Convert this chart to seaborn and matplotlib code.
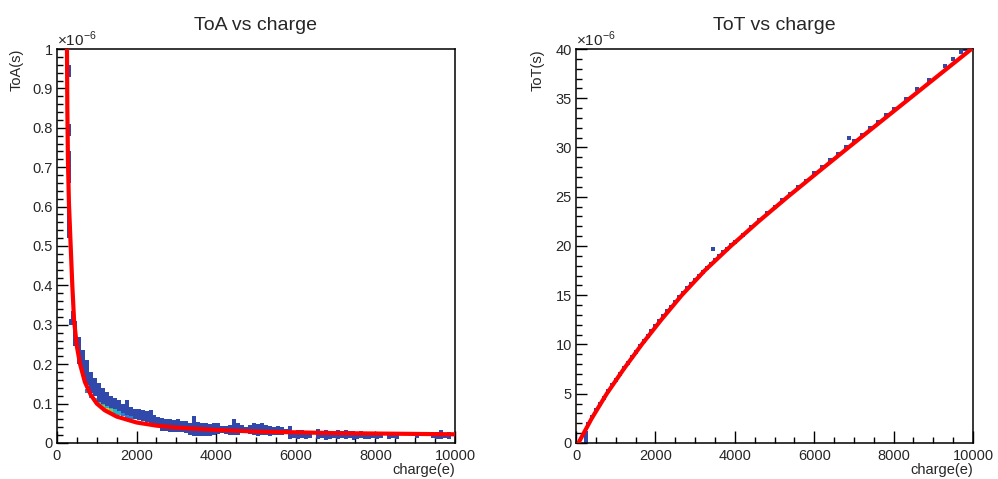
import numpy as np
import pandas as pd
import matplotlib
matplotlib.use("Agg")
import matplotlib.pyplot as plt
from matplotlib.ticker import MultipleLocator, FuncFormatter
import seaborn as sns

# ================================
# DATA (ToA and ToT in units of 1e-6 s)
# ================================
# ToA vs charge : filled band of the 2D histogram, 100 e wide bins
band_q = [300, 400, 500, 600, 700, 800, 900, 1000, 1100, 1200, 1300, 1400, 1500, 1600, 1700,
          1800, 1900, 2000, 2100, 2200, 2300, 2400, 2500, 2600, 2700, 2800, 2900, 3000, 3100,
          3200, 3300, 3400, 3500, 3600, 3700, 3800, 3900, 4000, 4100, 4200, 4300, 4400, 4500,
          4600, 4700, 4800, 4900, 5000, 5100, 5200, 5300, 5400, 5500, 5600, 5700, 5800, 5900,
          6000, 6100, 6200, 6300, 6400, 6500, 6600, 6700, 6800, 6900, 7000, 7100, 7200, 7300,
          7400, 7500, 7600, 7700, 7800, 7900, 8000, 8100, 8200, 8300, 8400, 8500, 8600, 8700,
          8800, 8900, 9000, 9100, 9200, 9300, 9400, 9500, 9600, 9700, 9800]
band_lo = [0.30, 0.245, 0.20, 0.17, 0.148, 0.128, 0.118, 0.105, 0.098, 0.09, 0.085, 0.079, 0.075,
           0.071, 0.068, 0.064, 0.061, 0.058, 0.055, 0.052, 0.05, 0.047, 0.045, 0.03, 0.03, 0.029,
           0.028, 0.028, 0.027, 0.026, 0.02, 0.018, 0.018, 0.017, 0.017, 0.018, 0.02, 0.022, 0.025,
           0.023, 0.02, 0.02, 0.02, 0.025, 0.027, 0.022, 0.02, 0.018, 0.02, 0.02, 0.018, 0.02, 0.02,
           0.02, 0.022, 0.01, 0.012, 0.01, 0.012, 0.01, 0.012, None, 0.01, 0.012, 0.008, 0.01,
           0.012, 0.01, 0.012, 0.01, 0.012, 0.008, 0.01, 0.012, 0.01, 0.01, 0.012, 0.01, 0.012,
           None, 0.01, 0.012, 0.01, None, None, None, None, 0.012, None, None, None, 0.012, 0.01,
           0.01, 0.012, 0.01]
band_hi = [0.315, 0.31, 0.27, 0.235, 0.21, 0.18, 0.165, 0.152, 0.14, 0.13, 0.118, 0.115, 0.108,
           0.10, 0.11, 0.092, 0.086, 0.087, 0.084, 0.08, 0.084, 0.07, 0.066, 0.064, 0.062, 0.06,
           0.058, 0.06, 0.057, 0.055, 0.05, 0.068, 0.052, 0.05, 0.05, 0.048, 0.05, 0.05, 0.042,
           0.042, 0.045, 0.06, 0.05, 0.045, 0.04, 0.045, 0.05, 0.048, 0.05, 0.045, 0.042, 0.04,
           0.042, 0.04, 0.035, 0.042, 0.03, 0.032, 0.033, 0.03, 0.028, None, 0.035, 0.03, 0.033,
           0.03, 0.028, 0.032, 0.03, 0.033, 0.03, 0.03, 0.028, 0.03, 0.027, 0.029, 0.026, 0.028,
           0.026, None, 0.027, 0.025, 0.028, None, None, None, None, 0.026, None, None, None,
           0.026, 0.028, 0.032, 0.026, 0.028]

# steep part near threshold, 50 e wide bins
steep_q = [300, 300, 300, 250, 300, 350, 350]
steep_lo = [0.93, 0.78, 0.66, 0.52, 0.50, 0.37, 0.31]
steep_hi = [0.96, 0.81, 0.74, 0.60, 0.56, 0.415, 0.335]

# higher occupancy cells along the lower edge
hot_q = [700, 800, 900, 1000, 1100, 1200, 1300, 1400, 1500, 1600, 1700, 1800, 1100, 1200, 1300, 1000, 1400]
hot_toa = [0.128, 0.115, 0.105, 0.097, 0.092, 0.086, 0.081, 0.077, 0.072, 0.068, 0.064, 0.061,
           0.088, 0.082, 0.077, 0.093, 0.073]
hot_level = [1, 1, 2, 2, 2, 2, 2, 2, 2, 1, 1, 1, 3, 4, 3, 3, 2]

# ToA fit curve
toa_fit_q = [250, 260, 275, 300, 340, 385, 430, 500, 580, 700, 850, 1000, 1200, 1500, 2000, 2500,
             3000, 4000, 5000, 6000, 7000, 8000, 9000, 10000]
toa_fit = [1.02, 0.85, 0.72, 0.61, 0.51, 0.40, 0.31, 0.245, 0.20, 0.155, 0.122, 0.100, 0.083, 0.067,
           0.052, 0.044, 0.039, 0.033, 0.029, 0.027, 0.025, 0.024, 0.023, 0.022]

# ToT vs charge : occupied cells
tot_q = [250, 250, 250, 300, 400, 500, 600, 700, 800, 900, 1000, 1100, 1200, 1300, 1400, 1500, 1600,
         1700, 1800, 1900, 2000, 2100, 2200, 2300, 2400, 2500, 2600, 2700, 2800, 2900, 3000, 3100,
         3200, 3300, 3400, 3450, 3500, 3600, 3700, 3800, 3900, 4000, 4200, 4400, 4600, 4800, 5000,
         5200, 5400, 5600, 5800, 6000, 6200, 6400, 6600, 6800, 6884, 7000, 7200, 7400, 7600, 7800,
         8000, 8300, 8600, 8900, 9300, 9500, 9700, 9800]
tot_val = [0.2, 0.6, 1.0, 1.9, 2.65, 3.3, 3.95, 4.6, 5.25, 5.85, 6.4, 7.0, 7.6, 8.15, 8.7, 9.25, 9.8,
           10.35, 10.85, 11.35, 11.85, 12.35, 12.85, 13.35, 13.85, 14.3, 14.8, 15.25, 15.7, 16.15,
           16.55, 17.0, 17.4, 17.8, 18.2, 19.7, 18.6, 18.95, 19.35, 19.7, 20.1, 20.45, 21.15, 21.9,
           22.6, 23.3, 23.95, 24.65, 25.3, 25.95, 26.6, 27.4, 28.05, 28.7, 29.35, 30.0, 31.0, 30.65,
           31.3, 31.95, 32.6, 33.25, 33.9, 34.9, 35.9, 36.9, 38.3, 39.0, 39.7, 40.0]

# ToT fit curve
tot_fit_q = [60, 395, 773, 1200, 1655, 2145, 2662, 3240, 3900, 4600, 5335, 6095, 6862, 7635, 8410,
             9185, 9960]
tot_fit = [0, 2.5, 5, 7.5, 10, 12.5, 15, 17.5, 20, 22.5, 25, 27.5, 30, 32.5, 35, 37.5, 40]

# ================================
# STYLE
# ================================
sns.set_style("white")
plt.rcParams["font.family"] = ["Liberation Sans", "DejaVu Sans"]
plt.rcParams["mathtext.fontset"] = "custom"
plt.rcParams["mathtext.rm"] = "Liberation Sans"

BLUE = "#3049ab"
RED = "#ff0000"
HOT = {1: "#2a7fd6", 2: "#22b3c4", 3: "#93c23c", 4: "#f5c22a"}

fig = plt.figure(figsize=(9.98, 4.79), dpi=100)
ax1 = fig.add_axes([0.0571, 0.0752, 0.3988, 0.8225])
ax2 = fig.add_axes([0.5772, 0.0752, 0.3978, 0.8225])

# ================================
# LEFT — ToA vs charge
# ================================
band = pd.DataFrame({"q": band_q, "lo": band_lo, "hi": band_hi}).dropna()
ax1.bar(band["q"], band["hi"] - band["lo"], bottom=band["lo"], width=100, align="edge",
        color=BLUE, linewidth=0, zorder=1)
steep = pd.DataFrame({"q": steep_q, "lo": steep_lo, "hi": steep_hi})
ax1.bar(steep["q"], steep["hi"] - steep["lo"], bottom=steep["lo"], width=50, align="edge",
        color=BLUE, linewidth=0, zorder=1)
hot = pd.DataFrame({"q": hot_q, "toa": hot_toa, "lvl": hot_level})
ax1.bar(hot["q"], 0.008, bottom=hot["toa"], width=100, align="edge",
        color=[HOT[v] for v in hot["lvl"]], linewidth=0, zorder=2)

fit1 = pd.DataFrame({"q": toa_fit_q, "toa": toa_fit})
sns.lineplot(data=fit1, x="q", y="toa", ax=ax1, color=RED, linewidth=3, zorder=3, sort=False)

ax1.set_xlim(0, 10000)
ax1.set_ylim(0, 1)
ax1.yaxis.set_major_locator(MultipleLocator(0.1))
ax1.yaxis.set_minor_locator(MultipleLocator(0.02))
ax1.set_title("ToA vs charge", fontsize=14, pad=14)
ax1.set_ylabel("ToA(s)", fontsize=10.5, loc="top")
ax1.yaxis.set_label_coords(-0.085, 1.0)
ax1.text(0.0, 1.0, r"$\times10^{-6}$", transform=ax1.transAxes, ha="left", va="bottom",
         fontsize=11)

# ================================
# RIGHT — ToT vs charge
# ================================
pts = pd.DataFrame({"q": tot_q, "tot": tot_val})
sns.scatterplot(data=pts, x="q", y="tot", ax=ax2, marker="s", s=6, color=BLUE,
                linewidth=0, zorder=1)
fit2 = pd.DataFrame({"q": tot_fit_q, "tot": tot_fit})
sns.lineplot(data=fit2, x="q", y="tot", ax=ax2, color=RED, linewidth=3, zorder=3, sort=False)

ax2.set_xlim(0, 10000)
ax2.set_ylim(0, 40)
ax2.yaxis.set_major_locator(MultipleLocator(5))
ax2.yaxis.set_minor_locator(MultipleLocator(1))
ax2.set_title("ToT vs charge", fontsize=14, pad=14)
ax2.set_ylabel("ToT(s)", fontsize=10.5, loc="top")
ax2.yaxis.set_label_coords(-0.078, 1.0)
ax2.text(0.0, 1.0, r"$\times10^{-6}$", transform=ax2.transAxes, ha="left", va="bottom",
         fontsize=11)

# ================================
# COMMON ROOT-LIKE AXES
# ================================
for ax in (ax1, ax2):
    ax.xaxis.set_major_locator(MultipleLocator(2000))
    ax.xaxis.set_minor_locator(MultipleLocator(500))
    ax.xaxis.set_major_formatter(FuncFormatter(lambda v, p: "%g" % v))
    ax.yaxis.set_major_formatter(FuncFormatter(lambda v, p: "%g" % round(v, 6)))
    ax.set_xlabel("charge(e)", fontsize=10.5, loc="right")
    ax.xaxis.set_label_coords(1.0, -0.05)
    ax.tick_params(which="both", direction="in", bottom=True, left=True, top=False, right=False,
                   labelsize=10.5, width=1.0, color="black")
    ax.tick_params(axis="x", which="major", length=8.5, pad=4.5)
    ax.tick_params(axis="x", which="minor", length=4)
    ax.tick_params(axis="y", which="major", length=8, pad=3)
    ax.tick_params(axis="y", which="minor", length=4)
    for s in ax.spines.values():
        s.set_visible(True)
        s.set_linewidth(1.1)
        s.set_color("black")
    ax.set_facecolor("white")

plt.savefig("out.png", dpi=100)
